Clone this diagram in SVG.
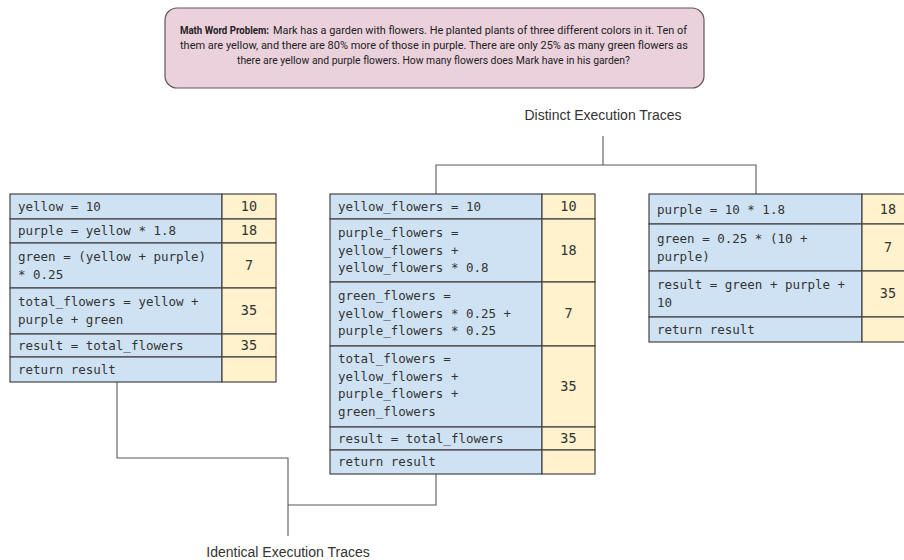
<svg xmlns="http://www.w3.org/2000/svg" width="904" height="560" viewBox="0 0 904 560">
  <style>
    .bg { fill: #ffffff; }
    .problem { fill: #ead1dc; stroke: #595959; stroke-width: 1.2; }
    .ptext { font-family: Roboto, "Noto Sans", "Liberation Sans", sans-serif; font-size: 11px; fill: #222222; }
    .pbold { font-weight: bold; }
    .code { fill: #cfe2f3; stroke: #434343; stroke-width: 1.2; }
    .val { fill: #fff2cc; stroke: #434343; stroke-width: 1.2; }
    .ct { font-family: "DejaVu Sans Mono", "Liberation Mono", monospace; font-size: 12.5px; fill: #333333; }
    .vt { font-family: "DejaVu Sans Mono", "Liberation Mono", monospace; font-size: 13.5px; fill: #333333; text-anchor: middle; }
    .label { font-family: "Liberation Sans", Arial, sans-serif; font-size: 14px; fill: #333333; text-anchor: middle; }
    .wire { fill: none; stroke: #595959; stroke-width: 1.1; }
  </style>
  <rect class="bg" x="0" y="0" width="904" height="560"/>

  <!-- problem statement -->
  <g id="problem">
    <rect class="problem" x="165" y="8" width="539" height="80" rx="12" ry="12"/>
    <text class="ptext pbold" x="180" y="34" textLength="89" lengthAdjust="spacingAndGlyphs">Math Word Problem:</text>
    <text class="ptext" x="273" y="34" textLength="414" lengthAdjust="spacingAndGlyphs">Mark has a garden with flowers. He planted plants of three different colors in it. Ten of</text>
    <text class="ptext" x="180" y="49" textLength="508" lengthAdjust="spacingAndGlyphs">them are yellow, and there are 80% more of those in purple. There are only 25% as many green flowers as</text>
    <text class="ptext" x="237" y="64" textLength="393" lengthAdjust="spacingAndGlyphs">there are yellow and purple flowers. How many flowers does Mark have in his garden?</text>
  </g>

  <!-- connectors -->
  <g id="connectors">
    <path class="wire" d="M603 136 V165 M436 194 V165 H756 V194"/>
    <path class="wire" d="M117 382 V458 H288 V536 M436 474 V505 H288"/>
  </g>

  <g id="label-distinct">
    <text class="label" x="603" y="120">Distinct Execution Traces</text>
  </g>
  <g id="label-identical">
    <text class="label" x="288" y="557">Identical Execution Traces</text>
  </g>

  <!-- trace A -->
  <g id="trace-a">
    <rect class="code" x="10" y="194" width="212" height="25"/>
    <rect class="val" x="222" y="194" width="54" height="25"/>
    <rect class="code" x="10" y="219" width="212" height="24"/>
    <rect class="val" x="222" y="219" width="54" height="24"/>
    <rect class="code" x="10" y="243" width="212" height="45"/>
    <rect class="val" x="222" y="243" width="54" height="45"/>
    <rect class="code" x="10" y="288" width="212" height="46"/>
    <rect class="val" x="222" y="288" width="54" height="46"/>
    <rect class="code" x="10" y="334" width="212" height="23"/>
    <rect class="val" x="222" y="334" width="54" height="23"/>
    <rect class="code" x="10" y="357" width="212" height="25"/>
    <rect class="val" x="222" y="357" width="54" height="25"/>
    <text class="ct" x="18" y="211">yellow = 10</text>
    <text class="ct" x="18" y="235">purple = yellow * 1.8</text>
    <text class="ct" x="18" y="261">green = (yellow + purple)</text>
    <text class="ct" x="18" y="279">* 0.25</text>
    <text class="ct" x="18" y="306">total_flowers = yellow +</text>
    <text class="ct" x="18" y="324">purple + green</text>
    <text class="ct" x="18" y="350">result = total_flowers</text>
    <text class="ct" x="18" y="374">return result</text>
    <text class="vt" x="249" y="211">10</text>
    <text class="vt" x="249" y="235">18</text>
    <text class="vt" x="249" y="270">7</text>
    <text class="vt" x="249" y="315">35</text>
    <text class="vt" x="249" y="350">35</text>
  </g>

  <!-- trace B -->
  <g id="trace-b">
    <rect class="code" x="330" y="194" width="212" height="25"/>
    <rect class="val" x="542" y="194" width="53" height="25"/>
    <rect class="code" x="330" y="219" width="212" height="63"/>
    <rect class="val" x="542" y="219" width="53" height="63"/>
    <rect class="code" x="330" y="282" width="212" height="64"/>
    <rect class="val" x="542" y="282" width="53" height="64"/>
    <rect class="code" x="330" y="346" width="212" height="81"/>
    <rect class="val" x="542" y="346" width="53" height="81"/>
    <rect class="code" x="330" y="427" width="212" height="23"/>
    <rect class="val" x="542" y="427" width="53" height="23"/>
    <rect class="code" x="330" y="450" width="212" height="24"/>
    <rect class="val" x="542" y="450" width="53" height="24"/>
    <text class="ct" x="338" y="211">yellow_flowers = 10</text>
    <text class="ct" x="338" y="237">purple_flowers =</text>
    <text class="ct" x="338" y="255">yellow_flowers +</text>
    <text class="ct" x="338" y="272">yellow_flowers * 0.8</text>
    <text class="ct" x="338" y="300">green_flowers =</text>
    <text class="ct" x="338" y="318">yellow_flowers * 0.25 +</text>
    <text class="ct" x="338" y="335">purple_flowers * 0.25</text>
    <text class="ct" x="338" y="363">total_flowers =</text>
    <text class="ct" x="338" y="381">yellow_flowers +</text>
    <text class="ct" x="338" y="398">purple_flowers +</text>
    <text class="ct" x="338" y="416">green_flowers</text>
    <text class="ct" x="338" y="443">result = total_flowers</text>
    <text class="ct" x="338" y="466">return result</text>
    <text class="vt" x="568.5" y="211">10</text>
    <text class="vt" x="568.5" y="255">18</text>
    <text class="vt" x="568.5" y="318">7</text>
    <text class="vt" x="568.5" y="391">35</text>
    <text class="vt" x="568.5" y="443">35</text>
  </g>

  <!-- trace C -->
  <g id="trace-c">
    <rect class="code" x="649" y="194" width="213" height="30"/>
    <rect class="val" x="862" y="194" width="54" height="30"/>
    <rect class="code" x="649" y="224" width="213" height="47"/>
    <rect class="val" x="862" y="224" width="54" height="47"/>
    <rect class="code" x="649" y="271" width="213" height="46"/>
    <rect class="val" x="862" y="271" width="54" height="46"/>
    <rect class="code" x="649" y="317" width="213" height="25"/>
    <rect class="val" x="862" y="317" width="54" height="25"/>
    <text class="ct" x="657" y="214">purple = 10 * 1.8</text>
    <text class="ct" x="657" y="243">green = 0.25 * (10 +</text>
    <text class="ct" x="657" y="261">purple)</text>
    <text class="ct" x="657" y="289">result = green + purple +</text>
    <text class="ct" x="657" y="307">10</text>
    <text class="ct" x="657" y="334">return result</text>
    <text class="vt" x="888" y="214">18</text>
    <text class="vt" x="888" y="252">7</text>
    <text class="vt" x="888" y="298">35</text>
  </g>
</svg>
